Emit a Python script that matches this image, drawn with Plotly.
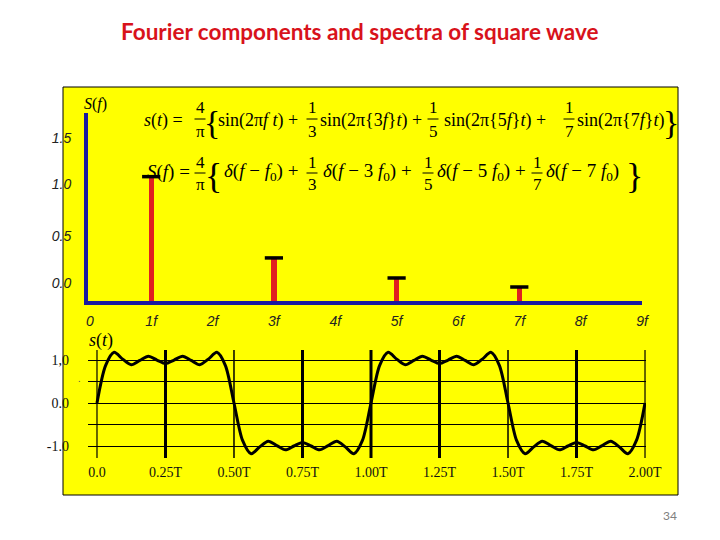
import plotly.graph_objects as go

W, H = 720, 540

title_text = "Fourier components and spectra of square wave"
page_number = "34"

# ---- spectrum panel data ----
harmonic_f = [1, 3, 5, 7]
spectrum_amp = [1.27, 0.44, 0.235, 0.143]
freq_tick_vals = [0, 1, 2, 3, 4, 5, 6, 7, 8, 9]
freq_tick_text = ["0", "1f", "2f", "3f", "4f", "5f", "6f", "7f", "8f", "9f"]
spec_ytick_vals = [0.18, 0.66, 1.19, 1.66]
spec_ytick_text = ["0.0", "0.5", "1.0", "1.5"]

# ---- time panel data (read at steps of T/32) ----
time_step = 1 / 32
s_values = [
    0.00, 0.87, 1.18, 1.02, 0.89, 0.99, 1.09, 1.00, 0.92, 1.00, 1.09, 0.99, 0.89, 1.02, 1.18, 0.87,
    0.00, -0.87, -1.18, -1.02, -0.89, -0.99, -1.09, -1.00, -0.92, -1.00, -1.09, -0.99, -0.89, -1.02, -1.18, -0.87,
    0.00, 0.87, 1.18, 1.02, 0.89, 0.99, 1.09, 1.00, 0.92, 1.00, 1.09, 0.99, 0.89, 1.02, 1.18, 0.87,
    0.00, -0.87, -1.18, -1.02, -0.89, -0.99, -1.09, -1.00, -0.92, -1.00, -1.09, -0.99, -0.89, -1.02, -1.18, -0.87,
    0.00,
]
time_tick_vals = [0, 0.25, 0.5, 0.75, 1.0, 1.25, 1.5, 1.75, 2.0]
time_tick_text = ["0.0", "0.25T", "0.50T", "0.75T", "1.00T", "1.25T", "1.50T", "1.75T", "2.00T"]
time_line_width = [1.2, 3, 1.5, 3, 3, 3, 1.5, 3, 1.2]
s_ytick_vals = [1, 0, -1]
s_ytick_text = ["1,0", "0.0", "-1.0"]
s_minor_vals = [0.5, -0.5]

t_values = [i * time_step for i in range(len(s_values))]

YELLOW = "#FFFF00"
BLUE = "#1B1BA0"
RED = "#E02020"
SERIF = "Liberation Serif"
SANS = "Liberation Sans"
FS = 18


def px(x):
    return x / W


def py(y):
    return 1 - y / H


fig = go.Figure()

# spectrum stems
fig.add_trace(go.Bar(x=harmonic_f, y=spectrum_amp, base=0, width=0.085,
                     marker=dict(color=RED, line=dict(width=0)),
                     xaxis="x", yaxis="y", showlegend=False))
fig.add_trace(go.Scatter(x=harmonic_f, y=spectrum_amp, mode="markers",
                         marker=dict(symbol="line-ew", size=13,
                                     line=dict(width=3.5, color="black")),
                         cliponaxis=False, xaxis="x", yaxis="y", showlegend=False))

# time curve
fig.add_trace(go.Scatter(x=t_values, y=s_values, mode="lines",
                         line=dict(color="black", width=3, shape="spline", smoothing=0.8),
                         xaxis="x2", yaxis="y2", showlegend=False, cliponaxis=False))

shapes = []
# yellow panel
shapes.append(dict(type="rect", xref="paper", yref="paper",
                   x0=px(63), x1=px(678), y0=py(495), y1=py(87),
                   fillcolor=YELLOW, line=dict(color="black", width=1), layer="below"))
# vertical grid lines in time panel
for tv, lw in zip(time_tick_vals, time_line_width):
    shapes.append(dict(type="line", xref="x2", yref="y2 domain", x0=tv, x1=tv, y0=0, y1=1,
                       line=dict(color="black", width=lw)))

annotations = []


def txt(x, y, s, size=FS, anchor="left", family=SERIF, color="black", style=None):
    font = dict(family=family, size=size, color=color)
    if style:
        font["style"] = style
    annotations.append(dict(x=px(x), y=py(y), xref="paper", yref="paper", text=s,
                            showarrow=False, xanchor=anchor, yanchor="middle", font=font))


def frac(xc, ybar, num, den, size=17, width=11):
    txt(xc, ybar - 11, num, size=size, anchor="center")
    txt(xc, ybar + 12, den, size=size, anchor="center")
    shapes.append(dict(type="line", xref="paper", yref="paper",
                       x0=px(xc - width / 2), x1=px(xc + width / 2), y0=py(ybar), y1=py(ybar),
                       line=dict(color="black", width=1)))


# formula 1: s(t)
y1 = 120
txt(142, y1, "<i>s</i>(<i>t</i>) =")
frac(200, 119, "4", "π")
txt(212, y1 + 3, "{", size=34, anchor="center")
txt(216, y1, "sin(2π<i>f t</i>) +")
frac(312, 119, "1", "3")
txt(318, y1, "sin(2π{3<i>f</i>}<i>t</i>) +")
frac(433, 119, "1", "5")
txt(442, y1, "sin(2π{5<i>f</i>}<i>t</i>) +")
frac(569, 119, "1", "7")
txt(575, y1, "sin(2π{7<i>f</i>}<i>t</i>)")
txt(671, y1 + 3, "}", size=34, anchor="center")

# formula 2: S(f)
y2 = 172
F2 = 19
txt(145, y2, "<i>S</i>(<i>f</i>) =", size=F2)
frac(200, 173, "4", "π")
txt(213, y2 + 4, "{", size=36, anchor="center")
txt(222, y2, "<i>δ</i>(<i>f</i> − <i>f</i><sub>0</sub>) +", size=F2)
frac(312, 173, "1", "3")
txt(321, y2, "<i>δ</i>(<i>f</i> − 3 <i>f</i><sub>0</sub>) +", size=F2)
frac(428, 173, "1", "5")
txt(435, y2, "<i>δ</i>(<i>f</i> − 5 <i>f</i><sub>0</sub>) +", size=F2)
frac(537, 173, "1", "7")
txt(544, y2, "<i>δ</i>(<i>f</i> − 7 <i>f</i><sub>0</sub>)", size=F2)
txt(634, y2 + 4, "}", size=36, anchor="center")

# axis captions
txt(95, 104, "<i>S</i>(<i>f</i>)", size=16, anchor="center")
txt(101, 340, "<i>s</i>(<i>t</i>)", size=18, anchor="center")
txt(79, 378, ".", size=10, anchor="center", color="#555")

# title and page number
annotations.append(dict(x=0.5, y=py(32), xref="paper", yref="paper", text="<b>" + title_text + "</b>",
                        showarrow=False, xanchor="center", yanchor="middle",
                        font=dict(family="Lato", size=22.5, color="#D8121B")))
txt(670, 515, page_number, size=12, anchor="center", family="Lato", color="#808080")

fig.update_layout(
    width=W, height=H,
    margin=dict(l=0, r=0, t=0, b=0, pad=0, autoexpand=False),
    paper_bgcolor="white",
    plot_bgcolor="rgba(0,0,0,0)",
    bargap=0,
    shapes=shapes,
    annotations=annotations,
    xaxis=dict(domain=[px(88), px(642)], range=[-0.03, 9], anchor="y", automargin=False,
               tickvals=freq_tick_vals, ticktext=freq_tick_text, ticks="",
               showgrid=False, zeroline=False, showline=True, linecolor=BLUE, linewidth=4,
               tickfont=dict(family=SANS, size=14, color="#222", style="italic"),
               ticklabelstandoff=4),
    yaxis=dict(domain=[py(301), py(113)], range=[0, 1.92], anchor="x", automargin=False,
               tickvals=spec_ytick_vals, ticktext=spec_ytick_text, ticks="",
               showgrid=False, zeroline=False, showline=True, linecolor=BLUE, linewidth=4,
               tickfont=dict(family=SANS, size=14, color="#222", style="italic"),
               ticklabelstandoff=10),
    xaxis2=dict(domain=[px(88), px(646)], range=[-0.0328, 2.0036], anchor="y2", automargin=False,
                tickvals=time_tick_vals, ticktext=time_tick_text, ticks="",
                showgrid=False, zeroline=False, showline=False,
                tickfont=dict(family=SERIF, size=14, color="#111"),
                ticklabelstandoff=4),
    yaxis2=dict(domain=[py(458), py(350)], range=[-1.279, 1.233], anchor="x2", automargin=False,
                tickvals=s_ytick_vals, ticktext=s_ytick_text, ticks="",
                showgrid=True, gridcolor="black", gridwidth=1, zeroline=False, showline=False,
                minor=dict(tickvals=s_minor_vals, showgrid=True, gridcolor="black", gridwidth=1),
                tickfont=dict(family=SERIF, size=14, color="#111"),
                ticklabelstandoff=18),
)

fig.write_html("out.html", post_script="document.body.style.margin='0';",
               config={"displayModeBar": False})
